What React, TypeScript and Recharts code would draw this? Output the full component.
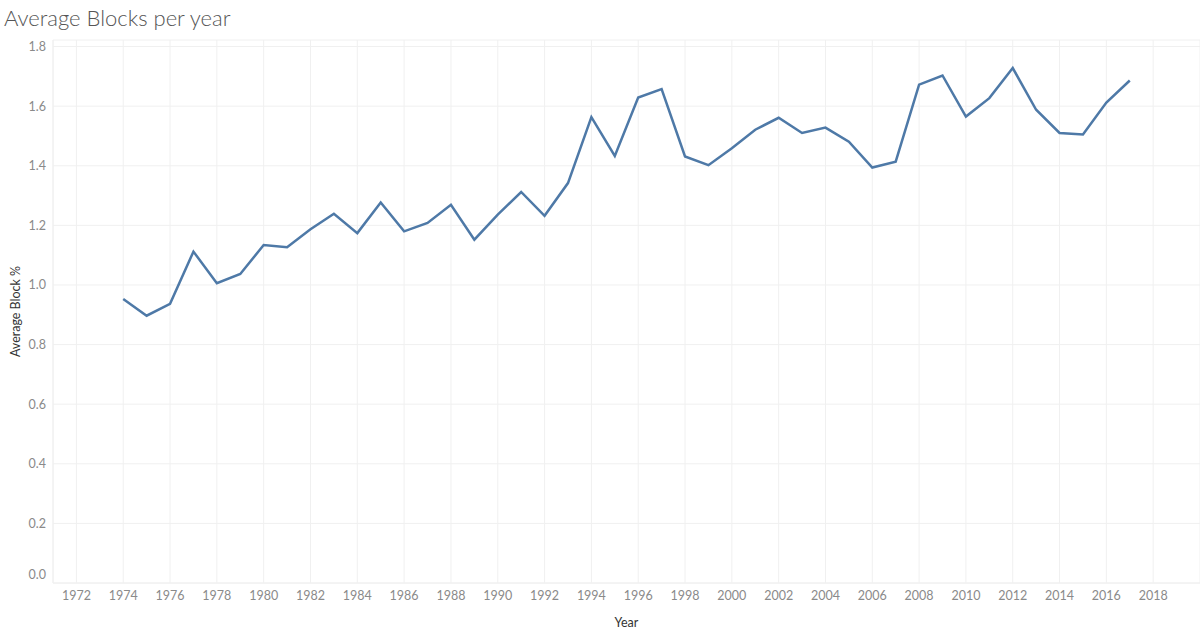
import React from 'react';
import { LineChart, Line, XAxis, YAxis, CartesianGrid } from 'recharts';

const years = [1974,1975,1976,1977,1978,1979,1980,1981,1982,1983,1984,1985,1986,1987,1988,1989,1990,1991,1992,1993,1994,1995,1996,1997,1998,1999,2000,2001,2002,2003,2004,2005,2006,2007,2008,2009,2010,2011,2012,2013,2014,2015,2016,2017];
const avgBlocks = [0.953,0.897,0.937,1.112,1.006,1.037,1.134,1.127,1.187,1.239,1.174,1.277,1.180,1.208,1.269,1.152,1.236,1.312,1.232,1.342,1.563,1.433,1.629,1.657,1.431,1.402,1.459,1.521,1.561,1.510,1.528,1.481,1.394,1.414,1.672,1.703,1.565,1.627,1.728,1.588,1.510,1.505,1.612,1.686];
const xTicks = [1972,1974,1976,1978,1980,1982,1984,1986,1988,1990,1992,1994,1996,1998,2000,2002,2004,2006,2008,2010,2012,2014,2016,2018];
const yTicks = [0,0.2,0.4,0.6,0.8,1.0,1.2,1.4,1.6,1.8];

const data = years.map((y, i) => ({ year: y, value: avgBlocks[i] }));

const FONT = "Lato, 'Open Sans', sans-serif";

const YTick = (props: any) => {
  const { x, y, payload } = props;
  const dy = payload.value === 0 ? -9 : 0;
  return (
    <text x={x} y={y + dy} textAnchor="end" dominantBaseline="central" fill="#8a8a8a" fontSize={12.5} fontFamily={FONT}>
      {Number(payload.value).toFixed(1)}
    </text>
  );
};

export default function App() {
  return (
    <div style={{ position: 'fixed', left: 0, top: 0, width: 1200, height: 637, background: '#fff' }}>
      <div style={{ position: 'absolute', left: 4, top: 4, fontFamily: FONT, fontSize: 22, fontWeight: 300, color: '#555', whiteSpace: 'nowrap' }}>
        Average Blocks per year
      </div>
      <LineChart width={1200} height={637} data={data} margin={{ top: 40, right: 0, bottom: 0, left: 0 }}>
        <CartesianGrid stroke="#f0f0f0" strokeWidth={1} />
        <XAxis
          dataKey="year"
          type="number"
          domain={[1971, 2020]}
          ticks={xTicks}
          allowDataOverflow
          tickLine={false}
          axisLine={{ stroke: '#f0f0f0' }}
          tickSize={0}
          tickMargin={8}
          tick={{ fill: '#8a8a8a', fontSize: 12.5, fontFamily: FONT }}
          label={{ value: 'Year', position: 'insideBottom', offset: 10, fill: '#333', fontSize: 12.5, fontFamily: FONT } as any}
          height={54}
        />
        <YAxis
          type="number"
          domain={[0, 1.822]}
          ticks={yTicks}
          allowDataOverflow
          width={53}
          tickLine={false}
          axisLine={{ stroke: '#f0f0f0' }}
          tickSize={0}
          tickMargin={7}
          tick={<YTick />}
          label={{ value: 'Average Block %', angle: -90, position: 'insideLeft', offset: 16, fill: '#333', fontSize: 12.5, fontFamily: FONT, style: { textAnchor: 'middle' } } as any}
        />
        <Line
          type="linear"
          dataKey="value"
          stroke="#4e79a7"
          strokeWidth={2.5}
          dot={false}
          activeDot={false}
          isAnimationActive={false}
        />
      </LineChart>
    </div>
  );
}
